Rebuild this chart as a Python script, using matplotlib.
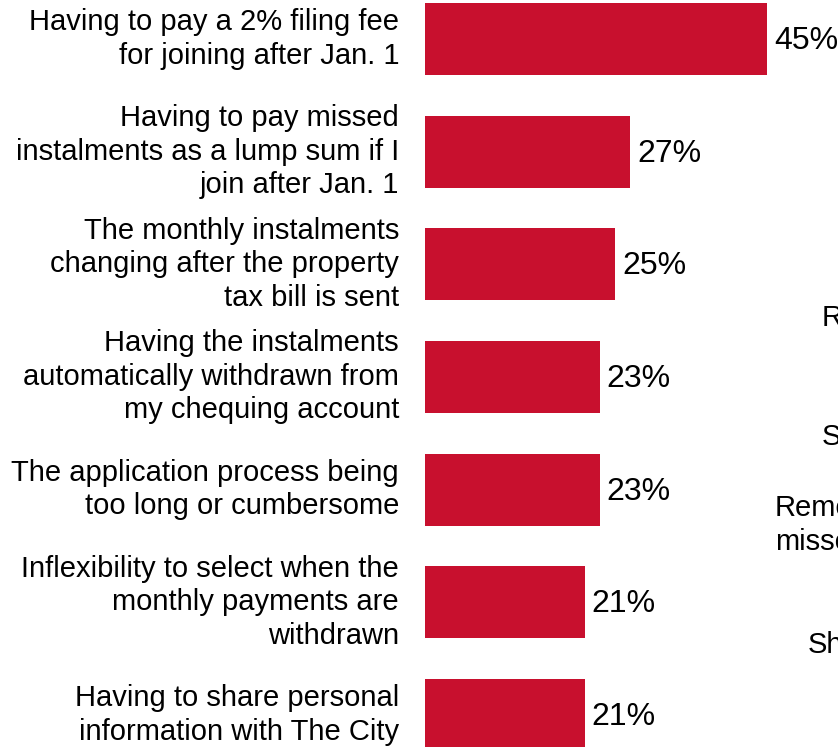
import matplotlib
matplotlib.use("Agg")
import matplotlib.pyplot as plt

categories = [
    "Having to pay a 2% filing fee\nfor joining after Jan. 1",
    "Having to pay missed\ninstalments as a lump sum if I\njoin after Jan. 1",
    "The monthly instalments\nchanging after the property\ntax bill is sent",
    "Having the instalments\nautomatically withdrawn from\nmy chequing account",
    "The application process being\ntoo long or cumbersome",
    "Inflexibility to select when the\nmonthly payments are\nwithdrawn",
    "Having to share personal\ninformation with The City",
]
values = [45, 27, 25, 23, 23, 21, 21]

# fragments of the neighbouring panel's labels, cut by the right edge
side_labels = ["R", "S", "Remem\nmissed", "Sh"]

plt.rcParams["font.family"] = ["Liberation Sans", "DejaVu Sans"]
W, H = 838, 747
fig = plt.figure(figsize=(W / 100, H / 100), dpi=100)

left_px = 425
px_per_unit = 7.6
xmax = 50
ax = fig.add_axes([left_px / W, 0, xmax * px_per_unit / W, 1])

red = "#C8102E"
ypos = list(range(len(categories)))
ax.barh(ypos, values, height=0.64, color=red)
ax.set_xlim(0, xmax)
ax.set_ylim(6.284, -0.346)
ax.axis("off")

fs = 21
fs_val = 23
for y, cat, v in zip(ypos, categories, values):
    ax.annotate(cat, xy=(0, y), xytext=(-26, 0), textcoords="offset pixels",
                ha="right", va="center", fontsize=fs, linespacing=1.25,
                annotation_clip=False)
    ax.annotate(f"{v}%", xy=(v, y), xytext=(7, -2), textcoords="offset pixels",
                ha="left", va="center", fontsize=fs_val, annotation_clip=False)

side_pos = [(822, 318), (822, 437), (775, 525), (808, 645)]
for txt, (x, y) in zip(side_labels, side_pos):
    fig.text(x / W, 1 - y / H, txt, ha="left", va="center", fontsize=fs,
             linespacing=1.25)

fig.savefig("out.png", dpi=100)
